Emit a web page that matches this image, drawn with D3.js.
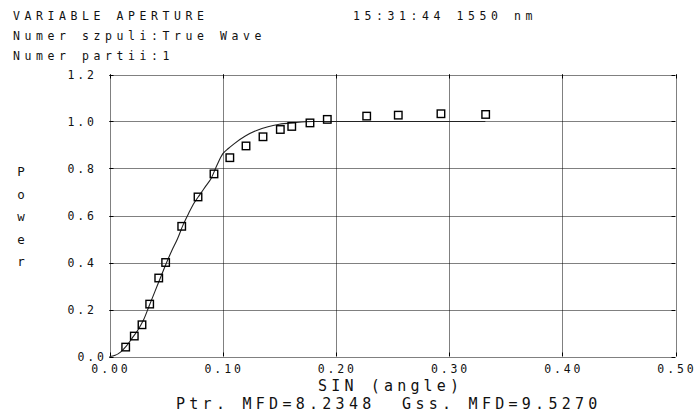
<!DOCTYPE html>
<html>
<head>
<meta charset="utf-8">
<script src="https://cdn.jsdelivr.net/npm/d3@7/dist/d3.min.js"></script>
<style>
  html, body { margin: 0; padding: 0; background: #fff; }
  svg { display: block; }
  text { font-family: "DejaVu Sans Mono", "Liberation Mono", monospace; fill: #111; }
</style>
</head>
<body>
<svg id="chart" width="697" height="419"></svg>
<script>
// ---- data ----
const xTickValues = [0, 0.1, 0.2, 0.3, 0.4, 0.5];
const xTickLabels = ["0.00", "0.10", "0.20", "0.30", "0.40", "0.50"];
const yTickValues = [0, 0.2, 0.4, 0.6, 0.8, 1.0, 1.2];
const yTickLabels = ["0.0", "0.2", "0.4", "0.6", "0.8", "1.0", "1.2"];

// measured points (squares)
const sinAngle = [0.0143, 0.0219, 0.0287, 0.0355, 0.0435, 0.0496, 0.0638, 0.0782, 0.0923, 0.1063,
                  0.1206, 0.1356, 0.1509, 0.1610, 0.1771, 0.1924, 0.2272, 0.2551, 0.2928, 0.3323];
const power    = [0.040, 0.087, 0.135, 0.223, 0.334, 0.400, 0.554, 0.679, 0.777, 0.846,
                  0.896, 0.935, 0.966, 0.979, 0.994, 1.009, 1.023, 1.027, 1.033, 1.030];

// fitted curve
const curveX = [0, 0.005, 0.010, 0.015, 0.020, 0.025, 0.030, 0.035, 0.040, 0.045, 0.050, 0.055,
                0.060, 0.065, 0.070, 0.075, 0.080, 0.085, 0.090, 0.095, 0.100, 0.105, 0.110, 0.120,
                0.130, 0.140, 0.150, 0.160, 0.170, 0.180, 0.190, 0.332];
const curveY = [0, 0.005, 0.020, 0.045, 0.078, 0.112, 0.155, 0.215, 0.275, 0.335, 0.395, 0.450,
                0.500, 0.560, 0.610, 0.655, 0.690, 0.725, 0.760, 0.815, 0.862, 0.885, 0.905, 0.938,
                0.962, 0.978, 0.988, 0.994, 0.998, 1.000, 1.000, 1.000];

const titleLines = ["VARIABLE APERTURE", "Numer szpuli:True Wave", "Numer partii:1"];
const timeText = "15:31:44 1550 nm";
const yAxisTitle = ["P", "o", "w", "e", "r"];
const xAxisTitle = "SIN (angle)";
const footerText = "Ptr. MFD=8.2348  Gss. MFD=9.5270";

// ---- drawing ----
const svg = d3.select("#chart");
const x = d3.scaleLinear().domain([0, 0.5]).range([109.5, 675.5]);
const y = d3.scaleLinear().domain([0, 1.2]).range([356.5, 74.5]);

// monospace plotter-like text: fixed advance per character
function mono(str, x0, base, fs, adv, anchor) {
  const n = str.length;
  const len = (n - 1) * adv + 0.602 * fs;
  let xs = x0;
  if (anchor === "middle") xs = x0 - len / 2;
  else if (anchor === "end") xs = x0 - len;
  svg.append("text")
    .attr("x", xs).attr("y", base)
    .attr("font-size", fs)
    .attr("textLength", len)
    .attr("lengthAdjust", "spacing")
    .style("white-space", "pre")
    .text(str);
}

const grid = svg.append("g").attr("stroke", "#000").attr("stroke-width", 1).attr("fill", "none");
// vertical grid lines
xTickValues.forEach(v => {
  const px = Math.round(x(v)) + 0.5;
  grid.append("line").attr("x1", px).attr("x2", px).attr("y1", y(1.2)).attr("y2", y(0))
    .attr("stroke-dasharray", "1,1");
  grid.append("line").attr("x1", px).attr("x2", px).attr("y1", y(0)).attr("y2", y(0) - 4);
  grid.append("line").attr("x1", px).attr("x2", px).attr("y1", y(1.2)).attr("y2", y(1.2) + 4);
});
// horizontal grid lines
yTickValues.forEach(v => {
  const py = Math.round(y(v)) + 0.5;
  grid.append("line").attr("x1", x(0)).attr("x2", x(0.5)).attr("y1", py).attr("y2", py)
    .attr("stroke-dasharray", "1,1");
  grid.append("line").attr("x1", x(0)).attr("x2", x(0) + 4).attr("y1", py).attr("y2", py);
  grid.append("line").attr("x1", x(0.5)).attr("x2", x(0.5) - 4).attr("y1", py).attr("y2", py);
});

// tick labels
xTickValues.forEach((v, i) => mono(xTickLabels[i], x(v), 373, 11.5, 9.8, "middle"));
yTickValues.forEach((v, i) => mono(yTickLabels[i], v === 0 ? 104 : 94, y(v) + 4.5, 11.5, 9.8, "end"));

// curve
const line = d3.line().x((d, i) => x(curveX[i])).y((d, i) => y(curveY[i])).curve(d3.curveMonotoneX);
svg.append("path").datum(curveX).attr("d", line)
  .attr("fill", "none").attr("stroke", "#222").attr("stroke-width", 1.1);

// squares
const sz = 7.5;
svg.append("g").selectAll("rect").data(sinAngle).join("rect")
  .attr("x", (d) => x(d) - sz / 2)
  .attr("y", (d, i) => y(power[i]) - sz / 2)
  .attr("width", sz).attr("height", sz)
  .attr("fill", "none").attr("stroke", "#000").attr("stroke-width", 1.4);

// titles
titleLines.forEach((t, i) => mono(t, 13, 20 + i * 20, 11.5, 11.5, "start"));
mono(timeText, 353, 20, 11.5, 11.5, "start");
yAxisTitle.forEach((c, i) => mono(c, 21, 176 + i * 22.5, 12.5, 10, "middle"));
mono(xAxisTitle, 318, 391, 15, 13.2, "start");
mono(footerText, 176, 409, 15, 13.3, "start");
</script>
</body>
</html>
